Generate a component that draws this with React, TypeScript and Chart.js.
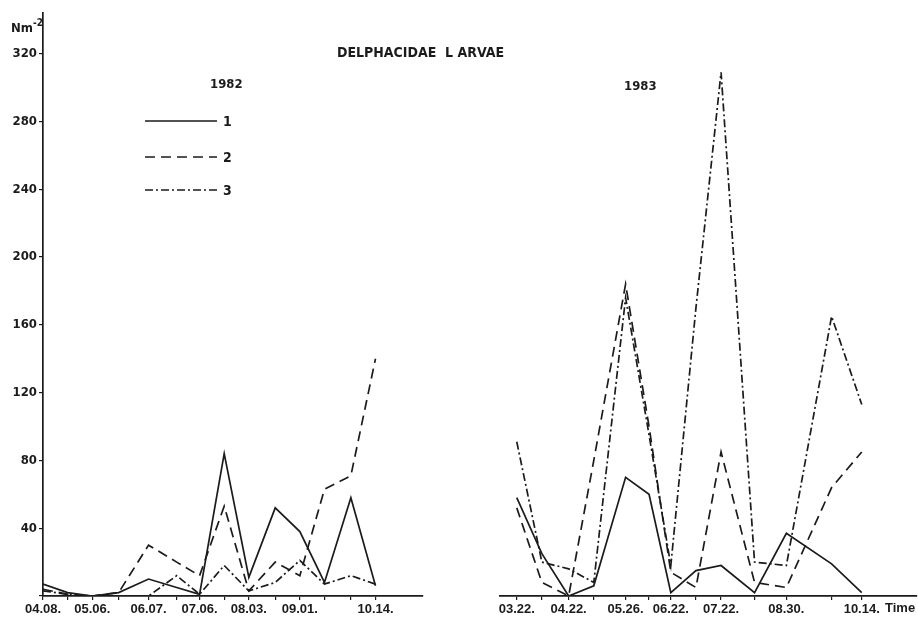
import React, { useEffect, useRef } from 'react';
import { Chart, registerables } from 'chart.js';

Chart.register(...registerables);

// ---------- data ----------
const seriesNames = ['1', '2', '3'];

// 1982 sampling dates as day-of-year
const days1982 = [98, 112, 126, 141, 158, 174, 187, 201, 215, 230, 244, 258, 273, 287];
const s1_1982 = [7, 2, 0, 2, 10, 5, 1, 84, 11, 52, 38, 8, 58, 6];
const s2_1982 = [4, 1, 0, 2, 30, 20, 12, 53, 3, 20, 12, 63, 71, 140];
const s3_1982 = [3, 1, 0, 0, 0, 12, 1, 18, 3, 8, 21, 7, 12, 7];
const tickDays1982 = [98, 126, 158, 187, 215, 244, 287];
const tickLabels1982 = ['04.08.', '05.06.', '06.07.', '07.06.', '08.03.', '09.01.', '10.14.'];

// 1983 sampling dates as day-of-year
const days1983 = [81, 96, 112, 127, 146, 160, 173, 188, 203, 223, 242, 269, 287];
const s1_1983 = [58, 25, 0, 6, 70, 60, 2, 15, 18, 2, 37, 19, 2];
const s2_1983 = [52, 8, 0, 80, 184, 100, 14, 5, 85, 8, 5, 64, 85];
const s3_1983 = [91, 20, 16, 8, 176, 95, 18, 170, 309, 20, 18, 165, 113];
const tickDays1983 = [81, 112, 146, 173, 203, 242, 287];
const tickLabels1983 = ['03.22.', '04.22.', '05.26.', '06.22.', '07.22.', '08.30.', '10.14.'];

const yTickValues = [0, 40, 80, 120, 160, 200, 240, 280, 320];

// ---------- style ----------
const INK = '#1b1b1b';
const FONT = '"DejaVu Sans Condensed", "DejaVu Sans", sans-serif';
const TICK_FONT = '"Liberation Sans", Arial, sans-serif';
const dashStyles: number[][] = [[], [10, 6], [8, 3, 2, 3]];

const legendPlugin = {
  id: 'lineLegend',
  afterDraw(chart: any) {
    const ctx = chart.ctx;
    const x0 = 145;
    const x1 = 217;
    const ys = [121, 157, 190];
    chart.data.datasets.forEach((ds: any, i: number) => {
      ctx.save();
      ctx.strokeStyle = ds.borderColor;
      ctx.lineWidth = ds.borderWidth;
      ctx.setLineDash(ds.borderDash || []);
      ctx.beginPath();
      ctx.moveTo(x0, ys[i]);
      ctx.lineTo(x1, ys[i]);
      ctx.stroke();
      ctx.setLineDash([]);
      ctx.fillStyle = INK;
      ctx.font = `bold 14px ${FONT}`;
      ctx.textBaseline = 'middle';
      ctx.textAlign = 'left';
      ctx.fillText(seriesNames[i], x1 + 6, ys[i] + 1);
      ctx.restore();
    });
  },
};

function makeDatasets(days: number[], series: number[][]) {
  return series.map((s, i) => ({
    label: seriesNames[i],
    data: days.map((d, j) => ({ x: d, y: s[j] })),
    borderColor: INK,
    backgroundColor: 'transparent',
    borderWidth: 1.7,
    borderDash: dashStyles[i],
    pointRadius: 0,
    tension: 0,
    fill: false,
  }));
}

function makeConfig(opts: {
  days: number[];
  series: number[][];
  tickDays: number[];
  tickLabels: string[];
  xMin: number;
  xMax: number;
  showY: boolean;
  padding: any;
  plugins: any[];
}): any {
  return {
    type: 'line',
    data: { datasets: makeDatasets(opts.days, opts.series) },
    plugins: opts.plugins,
    options: {
      animation: false,
      responsive: false,
      devicePixelRatio: 1,
      layout: { padding: opts.padding },
      plugins: { legend: { display: false }, tooltip: { enabled: false }, title: { display: false } },
      scales: {
        x: {
          type: 'linear',
          min: opts.xMin,
          max: opts.xMax,
          afterBuildTicks: (scale: any) => {
            scale.ticks = opts.days.map((v) => ({ value: v }));
          },
          afterFit: (scale: any) => {
            scale.height = 27;
          },
          ticks: {
            autoSkip: false,
            maxRotation: 0,
            minRotation: 0,
            padding: 2,
            color: INK,
            font: { family: TICK_FONT, size: 13, weight: 'bold' },
            callback: (value: number) => {
              const k = opts.tickDays.indexOf(value);
              return k >= 0 ? opts.tickLabels[k] : '';
            },
          },
          grid: { drawOnChartArea: false, drawTicks: true, tickLength: 4, color: INK, lineWidth: 1.2 },
          border: { display: true, color: INK, width: 1.7 },
        },
        y: {
          type: 'linear',
          display: opts.showY,
          min: 0,
          max: 344,
          afterBuildTicks: (scale: any) => {
            scale.ticks = yTickValues.map((v) => ({ value: v }));
          },
          afterFit: (scale: any) => {
            if (opts.showY) scale.width = 43;
          },
          ticks: {
            padding: 2,
            color: INK,
            font: { family: FONT, size: 13, weight: 'bold' },
            callback: (value: number) => (value === 0 ? '' : String(value)),
          },
          grid: { drawOnChartArea: false, drawTicks: true, tickLength: 4, color: INK, lineWidth: 1.2 },
          border: { display: true, color: INK, width: 1.7 },
        },
      },
    },
  };
}

const textStyle: React.CSSProperties = {
  position: 'absolute',
  fontFamily: FONT,
  fontWeight: 'bold',
  color: INK,
  whiteSpace: 'pre',
  lineHeight: 1,
};

export default function App() {
  const leftRef = useRef<HTMLCanvasElement>(null);
  const rightRef = useRef<HTMLCanvasElement>(null);

  useEffect(() => {
    document.body.style.margin = '0';
    const left = new Chart(
      leftRef.current as HTMLCanvasElement,
      makeConfig({
        days: days1982,
        series: [s1_1982, s2_1982, s3_1982],
        tickDays: tickDays1982,
        tickLabels: tickLabels1982,
        xMin: 98,
        xMax: 314,
        showY: true,
        padding: { top: 13, right: 37, left: 0, bottom: 0 },
        plugins: [legendPlugin],
      })
    );
    const right = new Chart(
      rightRef.current as HTMLCanvasElement,
      makeConfig({
        days: days1983,
        series: [s1_1983, s2_1983, s3_1983],
        tickDays: tickDays1983,
        tickLabels: tickLabels1983,
        xMin: 71,
        xMax: 320,
        showY: false,
        padding: { top: 13, right: 1, left: 40, bottom: 0 },
        plugins: [],
      })
    );
    return () => {
      left.destroy();
      right.destroy();
    };
  }, []);

  return (
    <div style={{ position: 'relative', width: 918, height: 623, background: '#fff', overflow: 'hidden' }}>
      <canvas ref={leftRef} width={460} height={623} style={{ position: 'absolute', left: 0, top: 0 }} />
      <canvas ref={rightRef} width={458} height={623} style={{ position: 'absolute', left: 460, top: 0 }} />
      <div style={{ ...textStyle, left: 11, top: 21, fontSize: 13 }}>
        Nm<sup style={{ fontSize: 10, verticalAlign: 'top', position: 'relative', top: -3 }}>-2</sup>
      </div>
      <div style={{ ...textStyle, left: 337, top: 45, fontSize: 14 }}>{'DELPHACIDAE  L ARVAE'}</div>
      <div style={{ ...textStyle, left: 210, top: 77, fontSize: 13 }}>1982</div>
      <div style={{ ...textStyle, left: 624, top: 79, fontSize: 13 }}>1983</div>
      <div style={{ ...textStyle, left: 885, top: 601, fontSize: 13, fontFamily: TICK_FONT }}>Time</div>
    </div>
  );
}
